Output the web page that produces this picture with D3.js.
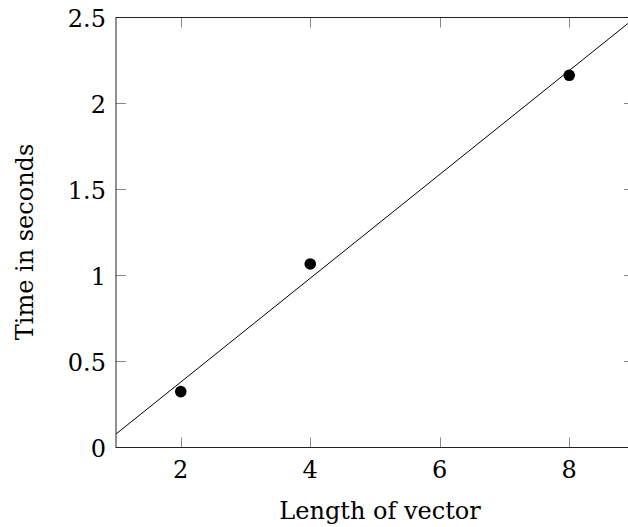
<!DOCTYPE html>
<html lang="en">
  <head>
    <meta charset="utf-8"/>
    <script src="https://d3js.org/d3.v7.min.js"></script>
    <style>
      body { margin: 0; background: #fff; }
      text { font-family: "DejaVu Serif", serif; fill: #000; }
    </style>
  </head>
  <body>
    <div id="chart"></div>
    <script>
    // measured points
    var lengths = [2, 4, 8];
    var times = [0.325, 1.067, 2.164];
    var xTicks = [2, 4, 6, 8];
    var yTicks = [0, 0.5, 1, 1.5, 2, 2.5];

    var width = 628, height = 527;
    var plotL = 116, plotR = 634, plotT = 17.5, plotB = 447.5;

    var svg = d3.select("#chart").append("svg")
        .attr("width", width)
        .attr("height", height);

    var x = d3.scaleLinear().domain([1, 9]).range([plotL, plotR]);
    var y = d3.scaleLinear().domain([0, 2.5]).range([plotB, plotT]);

    // least squares fit through the points
    var mx = d3.mean(lengths), my = d3.mean(times);
    var sxy = d3.sum(lengths, function(d, i) { return (d - mx) * (times[i] - my); });
    var sxx = d3.sum(lengths, function(d) { return (d - mx) * (d - mx); });
    var slope = sxy / sxx, icept = my - slope * mx;

    svg.append("clipPath").attr("id", "clip")
      .append("rect").attr("x", plotL).attr("y", plotT)
      .attr("width", plotR - plotL).attr("height", plotB - plotT);

    var xd = x.domain();
    svg.append("line")
        .attr("clip-path", "url(#clip)")
        .attr("x1", x(xd[0])).attr("y1", y(slope * xd[0] + icept))
        .attr("x2", x(xd[1])).attr("y2", y(slope * xd[1] + icept))
        .attr("stroke", "#000").attr("stroke-width", 1);

    svg.selectAll(".pt").data(lengths).enter().append("circle")
        .attr("class", "pt")
        .attr("cx", function(d) { return x(d); })
        .attr("cy", function(d, i) { return y(times[i]); })
        .attr("r", 5.8)
        .attr("fill", "#000");

    // ticks point inward on all four sides
    var tickColor = "#888", tickLen = 10;
    xTicks.forEach(function(t) {
      var px = Math.round(x(t)) + 0.5;
      svg.append("line").attr("x1", px).attr("x2", px)
        .attr("y1", plotB).attr("y2", plotB - tickLen).attr("stroke", tickColor);
      svg.append("line").attr("x1", px).attr("x2", px)
        .attr("y1", plotT).attr("y2", plotT + tickLen).attr("stroke", tickColor);
      svg.append("text").attr("x", x(t)).attr("y", plotB + 30)
        .attr("text-anchor", "middle").attr("font-size", 24).text(t);
    });
    yTicks.forEach(function(t) {
      svg.append("line").attr("x1", plotL).attr("x2", plotL + tickLen)
        .attr("y1", y(t)).attr("y2", y(t)).attr("stroke", tickColor);
      svg.append("line").attr("x1", plotR).attr("x2", plotR - tickLen)
        .attr("y1", y(t)).attr("y2", y(t)).attr("stroke", tickColor);
      svg.append("text").attr("x", 106).attr("y", y(t) + 9)
        .attr("text-anchor", "end").attr("font-size", 24).text(t);
    });

    svg.append("rect")
        .attr("x", plotL).attr("y", plotT)
        .attr("width", plotR - plotL).attr("height", plotB - plotT)
        .attr("fill", "none").attr("stroke", "#222").attr("stroke-width", 1);

    svg.append("text").attr("x", 380).attr("y", 519)
        .attr("text-anchor", "middle").attr("font-size", 24).text("Length of vector");
    svg.append("text").attr("transform", "translate(33,242) rotate(-90)")
        .attr("text-anchor", "middle").attr("font-size", 24).text("Time in seconds");
    </script>
  </body>
</html>
